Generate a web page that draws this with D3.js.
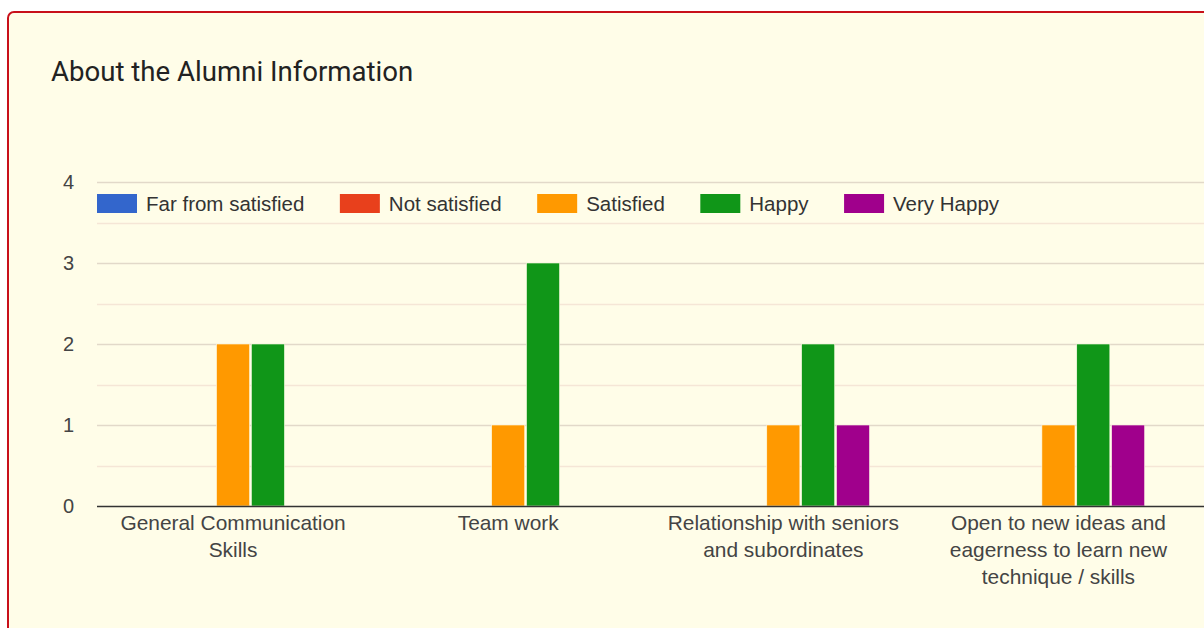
<!DOCTYPE html>
<html>
<head>
<meta charset="utf-8">
<script src="https://cdn.jsdelivr.net/npm/d3@7"></script>
<style>
  body { margin: 0; background: #fff; }
  svg { display: block; }
</style>
</head>
<body>
<div id="chart"></div>
<script>
var categories = [
  "General Communication Skills",
  "Team work",
  "Relationship with seniors and subordinates",
  "Open to new ideas and eagerness to learn new technique / skills"
];
var seriesNames = ["Far from satisfied", "Not satisfied", "Satisfied", "Happy", "Very Happy"];
var seriesColors = ["#3366cc", "#e8401c", "#ff9900", "#109618", "#a0008c"];
var farFromSatisfied = [0, 0, 0, 0];
var notSatisfied = [0, 0, 0, 0];
var satisfied = [2, 1, 1, 1];
var happy = [2, 3, 2, 2];
var veryHappy = [0, 0, 1, 1];
var yTicks = [0, 1, 2, 3, 4];

var series = [farFromSatisfied, notSatisfied, satisfied, happy, veryHappy];

var width = 1204, height = 628;
var plotLeft = 97, plotRight = 1196, plotTop = 182, plotBottom = 506;

var svg = d3.select("#chart").append("svg")
    .attr("width", width)
    .attr("height", height);

// card
svg.append("rect")
    .attr("x", 8).attr("y", 12)
    .attr("width", 1240).attr("height", 700)
    .attr("rx", 6)
    .attr("fill", "#fffde8")
    .attr("stroke", "#c8101a")
    .attr("stroke-width", 2);

svg.append("text")
    .attr("x", 51).attr("y", 81)
    .attr("font-family", "Roboto, sans-serif")
    .attr("font-size", 27.6)
    .attr("fill", "#222")
    .text("About the Alumni Information");

var y = d3.scaleLinear().domain([0, 4]).range([plotBottom, plotTop]);

var x0 = d3.scaleBand().domain(categories).range([plotLeft - 1.5, plotRight]);
var groupW = 172.5;
var x1 = d3.scaleBand().domain(seriesNames)
    .range([(x0.bandwidth() - groupW) / 2, (x0.bandwidth() + groupW) / 2])
    .paddingInner(0.05);

var g = svg.append("g");

// minor grid
g.selectAll("line.minor")
  .data(d3.range(0.5, 4, 1))
  .enter().append("line")
    .attr("class", "minor")
    .attr("x1", plotLeft).attr("x2", width)
    .attr("y1", function(d) { return Math.round(y(d)) + 0.5; })
    .attr("y2", function(d) { return Math.round(y(d)) + 0.5; })
    .attr("stroke", "#f5e6d6")
    .attr("stroke-width", 1.5);

// major grid
g.selectAll("line.major")
  .data(yTicks.slice(1))
  .enter().append("line")
    .attr("class", "major")
    .attr("x1", plotLeft).attr("x2", width)
    .attr("y1", function(d) { return Math.round(y(d)) + 0.5; })
    .attr("y2", function(d) { return Math.round(y(d)) + 0.5; })
    .attr("stroke", "#e2d9c9")
    .attr("stroke-width", 1.5);

// y labels
g.selectAll("text.ytick")
  .data(yTicks)
  .enter().append("text")
    .attr("class", "ytick")
    .attr("x", 74)
    .attr("y", function(d) { return y(d); })
    .attr("dy", "0.35em")
    .attr("text-anchor", "end")
    .attr("font-family", "'Liberation Sans', Arial, sans-serif")
    .attr("font-size", 20)
    .attr("fill", "#444")
    .text(function(d) { return d; });

// bars
var groups = g.selectAll("g.cat")
  .data(categories)
  .enter().append("g")
    .attr("class", "cat")
    .attr("transform", function(d) { return "translate(" + x0(d) + ",0)"; });

groups.selectAll("rect")
  .data(function(d, i) {
    return seriesNames.map(function(s, j) { return { name: s, value: series[j][i], color: seriesColors[j] }; });
  })
  .enter().append("rect")
    .filter(function(d) { return d.value > 0; })
    .attr("x", function(d) { return x1(d.name); })
    .attr("y", function(d) { return y(d.value); })
    .attr("width", x1.bandwidth())
    .attr("height", function(d) { return y(0) - y(d.value); })
    .attr("fill", function(d) { return d.color; })
    .attr("stroke", "#fffde8")
    .attr("stroke-width", 0.6);

// baseline
g.append("line")
    .attr("x1", plotLeft).attr("x2", width)
    .attr("y1", plotBottom + 0.5).attr("y2", plotBottom + 0.5)
    .attr("stroke", "#333")
    .attr("stroke-width", 1.5);

// category labels, wrapped
groups.append("text")
    .attr("x", x0.bandwidth() / 2)
    .attr("y", 530)
    .attr("text-anchor", "middle")
    .attr("font-family", "'Liberation Sans', Arial, sans-serif")
    .attr("font-size", 20.9)
    .attr("fill", "#444")
    .each(function(d) {
      var t = d3.select(this);
      var words = d.split(" ");
      var line = [];
      var tspan = t.append("tspan").attr("x", x0.bandwidth() / 2).attr("dy", 0);
      words.forEach(function(w) {
        line.push(w);
        tspan.text(line.join(" "));
        if (tspan.node().getComputedTextLength() > 245 && line.length > 1) {
          line.pop();
          tspan.text(line.join(" "));
          line = [w];
          tspan = t.append("tspan").attr("x", x0.bandwidth() / 2).attr("dy", 27).text(w);
        }
      });
    });

// legend
var lx = plotLeft;
seriesNames.forEach(function(s, i) {
  var item = svg.append("g").attr("transform", "translate(" + lx + ",194)");
  item.append("rect")
      .attr("width", 40).attr("height", 19)
      .attr("fill", seriesColors[i]);
  var txt = item.append("text")
      .attr("x", 49).attr("y", 9.5)
      .attr("dy", "0.35em")
      .attr("font-family", "'Liberation Sans', Arial, sans-serif")
      .attr("font-size", 20.5)
      .attr("fill", "#333")
      .text(s);
  lx += 49 + txt.node().getComputedTextLength() + 35.5;
});
</script>
</body>
</html>
